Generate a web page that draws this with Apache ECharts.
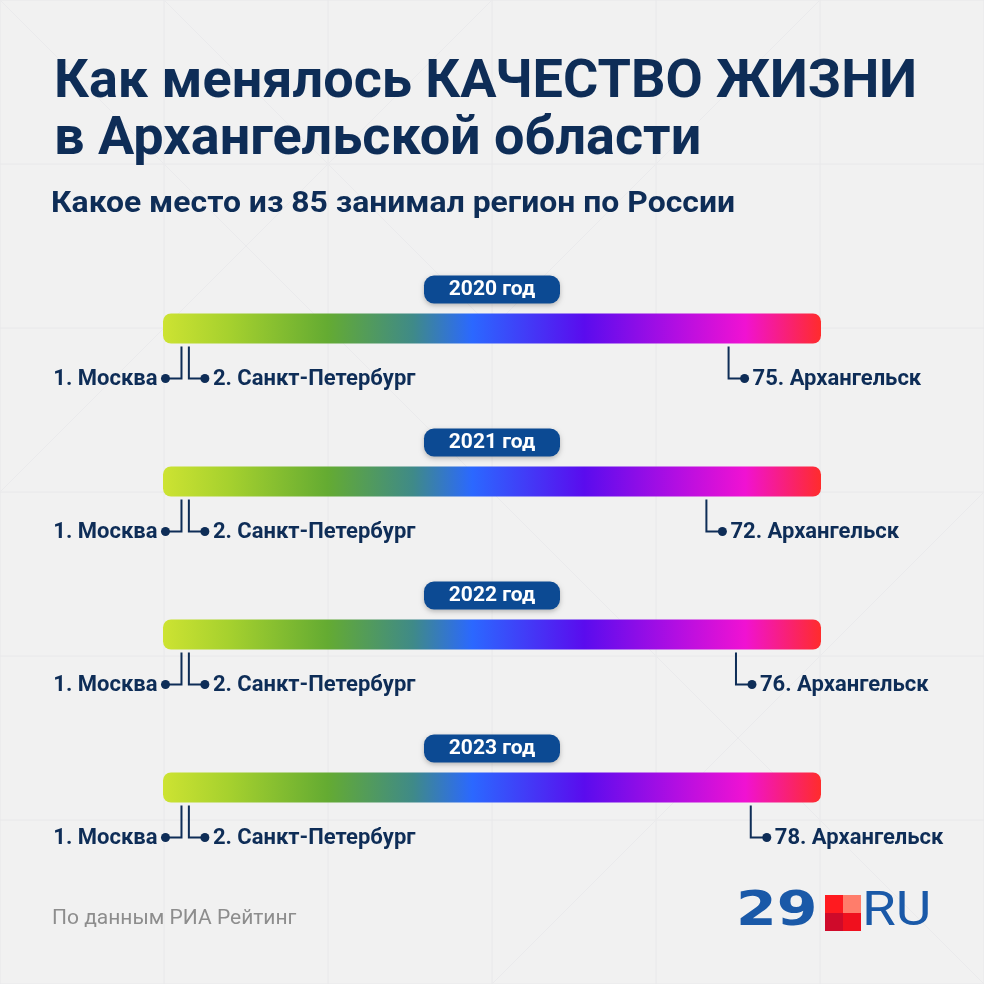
<!DOCTYPE html>
<html><head><meta charset="utf-8">
<script src="https://cdn.jsdelivr.net/npm/echarts@6/dist/echarts.min.js"></script>
<style>html,body{margin:0;padding:0;background:#f1f1f1;}#c{width:984px;height:984px;}</style>
</head><body><div id="c"></div>
<script>
// ---- data ----
const years = ['2020 год', '2021 год', '2022 год', '2023 год'];
const moscowRank = [1, 1, 1, 1];
const spbRank = [2, 2, 2, 2];
const arkhRank = [75, 72, 76, 78];
const cityNames = ['Москва', 'Санкт-Петербург', 'Архангельск'];
const totalRegions = 85;

const NAVY = '#0e2d57';
const chart = echarts.init(document.getElementById('c'), null, {renderer: 'canvas'});

const barData = years.map((y, i) => [0, i]);
const markerData = [];
years.forEach((y, i) => {
  markerData.push([moscowRank[i], i, -1, moscowRank[i] + '. ' + cityNames[0]]);
  markerData.push([spbRank[i], i, 1, spbRank[i] + '. ' + cityNames[1]]);
  markerData.push([arkhRank[i], i, 1, arkhRank[i] + '. ' + cityNames[2]]);
});

function barRender(params, api) {
  const cs = params.coordSys;
  const yi = api.value(1);
  const cy = api.coord([0, yi])[1];
  const cx = cs.x + cs.width / 2;
  return {
    type: 'group',
    children: [
      {type: 'rect', shape: {x: cs.x, y: cy - 15, width: cs.width, height: 30, r: 8},
       style: {fill: new echarts.graphic.LinearGradient(0, 0, 1, 0, [
         {offset: 0, color: '#cde332'},
         {offset: 0.1, color: '#a6d12e'},
         {offset: 0.25, color: '#64ab32'},
         {offset: 0.38, color: '#3f8a88'},
         {offset: 0.47, color: '#2b68ff'},
         {offset: 0.64, color: '#5a0cee'},
         {offset: 0.78, color: '#b20ee2'},
         {offset: 0.885, color: '#f012d2'},
         {offset: 1, color: '#ff2c2c'}
       ])}},
      {type: 'rect', shape: {x: cx - 68, y: cy - 53, width: 136, height: 28, r: 10},
       style: {fill: '#0c4a93', shadowColor: 'rgba(0,0,0,0.25)', shadowBlur: 5, shadowOffsetY: 2}},
      {type: 'text', x: cx, y: cy - 39,
       style: {text: years[yi], fill: '#ffffff', font: 'bold 21px Roboto', align: 'center', verticalAlign: 'middle'}}
    ]
  };
}

function markerRender(params, api) {
  const p = api.coord([api.value(0), api.value(1)]);
  const dir = api.value(2);
  const label = markerData[params.dataIndex][3];
  const x = p[0];
  const y0 = p[1] + 18;
  const y1 = p[1] + 50;
  const xe = x + dir * 16;
  return {
    type: 'group',
    children: [
      {type: 'polyline', shape: {points: [[x, y0], [x, y1], [xe, y1]]},
       style: {stroke: NAVY, lineWidth: 2, fill: null}},
      {type: 'circle', shape: {cx: xe, cy: y1, r: 4.5}, style: {fill: NAVY}},
      {type: 'text', x: xe + dir * 8, y: y1 + 1,
       style: {text: label, fill: NAVY, font: 'bold 22px Roboto',
               align: dir < 0 ? 'right' : 'left', verticalAlign: 'middle'}}
    ]
  };
}

// faint background pattern
const bgLines = [];
const gridPos = [0, 164, 328, 492, 656, 820, 984];
gridPos.forEach(v => {
  bgLines.push({type: 'line', shape: {x1: v, y1: 0, x2: v, y2: 984}, style: {stroke: '#e8e8ea', lineWidth: 1}, z: -10});
  bgLines.push({type: 'line', shape: {x1: 0, y1: v, x2: 984, y2: v}, style: {stroke: '#e8e8ea', lineWidth: 1}, z: -10});
});
[[0, 0, 492, 492], [492, 0, 0, 492], [492, 492, 984, 984], [984, 492, 492, 984], [164, 0, 492, 328], [820, 0, 492, 328]].forEach(l => {
  bgLines.push({type: 'line', shape: {x1: l[0], y1: l[1], x2: l[2], y2: l[3]}, style: {stroke: '#eaeaec', lineWidth: 1}, z: -10});
});

chart.setOption({
  backgroundColor: '#f1f1f1',
  animation: false,
  textStyle: {fontFamily: 'Roboto'},
  title: [
    {text: 'Как менялось КАЧЕСТВО ЖИЗНИ\nв Архангельской области', left: 49, top: 50,
     textStyle: {fontFamily: 'Roboto', fontWeight: 'bold', fontSize: 54, lineHeight: 57, color: NAVY}}
  ],
  grid: {left: 163, right: 163, top: 252, height: 612},
  xAxis: {type: 'value', min: -1.5, max: 87.5, show: false},
  yAxis: {type: 'category', data: years, inverse: true, show: false},
  graphic: bgLines.concat([
    {type: 'text', x: 51, y: 190, scaleX: 1.1,
     style: {text: 'Какое место из ' + totalRegions + ' занимал регион по России', fill: NAVY, font: 'bold 29px Roboto'}},
    {type: 'text', left: 52, top: 908, style: {text: 'По данным РИА Рейтинг', fill: '#8d8d8d', font: '21px Roboto'}},
    {type: 'text', x: 736, y: 889, scaleX: 1.22, style: {text: '29', fill: '#1a59a8', font: '900 48px "DejaVu Sans"'}},
    {type: 'rect', shape: {x: 825, y: 895, width: 18, height: 18}, style: {fill: '#ff1a1f'}},
    {type: 'rect', shape: {x: 843, y: 895, width: 18, height: 18}, style: {fill: '#ff7d6b'}},
    {type: 'rect', shape: {x: 825, y: 913, width: 18, height: 18}, style: {fill: '#cf0a2a'}},
    {type: 'rect', shape: {x: 843, y: 913, width: 18, height: 18}, style: {fill: '#f0101e'}},
    {type: 'text', x: 862, y: 888, scaleX: 1.12, style: {text: 'RU', fill: '#1a59a8', font: '49px Roboto'}}
  ]),
  series: [
    {type: 'custom', renderItem: barRender, data: barData, encode: {x: 0, y: 1}, silent: true, z: 2},
    {type: 'custom', renderItem: markerRender, data: markerData.map(d => [d[0], d[1], d[2]]), encode: {x: 0, y: 1}, silent: true, z: 3}
  ]
});
</script></body></html>
